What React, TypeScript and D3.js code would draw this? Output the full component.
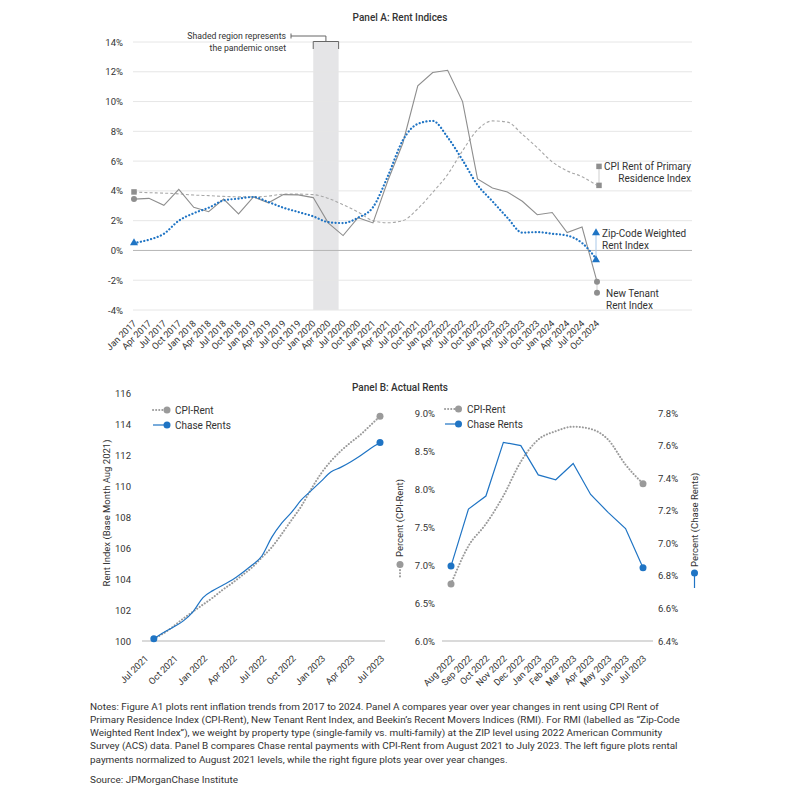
import React from 'react';
import * as d3 from 'd3';

// Panel A: year over year rent change, quarterly, Jan 2017 - Oct 2024
const quarters = [
  'Jan 2017', 'Apr 2017', 'Jul 2017', 'Oct 2017', 'Jan 2018', 'Apr 2018', 'Jul 2018', 'Oct 2018',
  'Jan 2019', 'Apr 2019', 'Jul 2019', 'Oct 2019', 'Jan 2020', 'Apr 2020', 'Jul 2020', 'Oct 2020',
  'Jan 2021', 'Apr 2021', 'Jul 2021', 'Oct 2021', 'Jan 2022', 'Apr 2022', 'Jul 2022', 'Oct 2022',
  'Jan 2023', 'Apr 2023', 'Jul 2023', 'Oct 2023', 'Jan 2024', 'Apr 2024', 'Jul 2024', 'Oct 2024',
];
const newTenant = [3.45, 3.5, 3.03, 4.1, 2.9, 2.6, 3.45, 2.45, 3.6, 3.2, 3.75, 3.73, 3.55, 1.85, 1.0, 2.2,
  1.85, 4.7, 7.2, 11.05, 11.95, 12.1, 10.0, 4.8, 4.2, 3.93, 3.3, 2.4, 2.55, 1.2, 1.57, -2.1];
const cpiRent = [3.93, 3.88, 3.85, 3.8, 3.72, 3.68, 3.63, 3.6, 3.6, 3.65, 3.78, 3.78, 3.75, 3.5, 3.07, 2.58,
  2.0, 1.86, 2.0, 2.8, 3.9, 5.1, 6.7, 8.1, 8.7, 8.62, 7.8, 6.9, 5.95, 5.35, 4.95, 4.37];
const zipWeighted = [0.5, 0.72, 1.12, 2.0, 2.5, 2.87, 3.36, 3.48, 3.59, 3.25, 2.87, 2.58, 2.29, 1.9, 1.84, 2.2,
  2.9, 5.0, 7.4, 8.5, 8.7, 7.6, 6.06, 4.4, 3.3, 2.2, 1.2, 1.23, 1.12, 1.0, 0.5, -0.63];
const yTicksA = [-4, -2, 0, 2, 4, 6, 8, 10, 12, 14];
const pandemic = [12, 13.7]; // Jan 2020 to ~Jun 2020, in quarter index

// Panel B left: rent index, monthly Aug 2021 - Jul 2023 (month 1..24 from Jul 2021)
const leftTickLabels = ['Jul 2021', 'Oct 2021', 'Jan 2022', 'Apr 2022', 'Jul 2022', 'Oct 2022', 'Jan 2023', 'Apr 2023', 'Jul 2023'];
const cpiIndex = [100.15, 100.5, 100.95, 101.45, 101.9, 102.35, 102.8, 103.3, 103.75, 104.25, 104.75, 105.4,
  106.05, 106.9, 107.8, 108.7, 109.8, 110.8, 111.6, 112.25, 112.8, 113.3, 113.9, 114.5];
const chaseIndex = [100.15, 100.55, 100.9, 101.3, 101.9, 102.8, 103.25, 103.6, 103.95, 104.4, 104.9, 105.5,
  106.7, 107.6, 108.3, 109.1, 109.7, 110.3, 110.9, 111.2, 111.55, 111.95, 112.4, 112.8];
const yTicksBL = [100, 102, 104, 106, 108, 110, 112, 114, 116];

// Panel B right: yoy %, monthly Aug 2022 - Jul 2023
const months = ['Aug 2022', 'Sep 2022', 'Oct 2022', 'Nov 2022', 'Dec 2022', 'Jan 2023', 'Feb 2023', 'Mar 2023',
  'Apr 2023', 'May 2023', 'Jun 2023', 'Jul 2023'];
const cpiYoy = [6.75, 7.25, 7.54, 7.91, 8.36, 8.65, 8.76, 8.82, 8.79, 8.65, 8.32, 8.07];
const chaseYoy = [6.86, 7.21, 7.29, 7.62, 7.6, 7.42, 7.39, 7.49, 7.3, 7.19, 7.09, 6.85];
const yTicksCpi = [6.0, 6.5, 7.0, 7.5, 8.0, 8.5, 9.0];
const yTicksChase = [6.4, 6.6, 6.8, 7.0, 7.2, 7.4, 7.6, 7.8];

const notes = [
  'Notes: Figure A1 plots rent inflation trends from 2017 to 2024. Panel A compares year over year changes in rent using CPI Rent of',
  'Primary Residence Index (CPI-Rent), New Tenant Rent Index, and Beekin\u2019s Recent Movers Indices (RMI). For RMI (labelled as \u201cZip-Code',
  'Weighted Rent Index\u201d), we weight by property type (single-family vs. multi-family) at the ZIP level using 2022 American Community',
  'Survey (ACS) data. Panel B compares Chase rental payments with CPI-Rent from August 2021 to July 2023. The left figure plots rental',
  'payments normalized to August 2021 levels, while the right figure plots year over year changes.',
];

const FONT = 'Roboto, "Noto Sans", sans-serif';
const TXT = '#333';
const GRID = '#e6e6e6';
const GRAY = '#8e8e8e';
const LGRAY = '#a8a8a8';
const BLUE = '#1f74c4';

export default function App() {
  // ---- Panel A scales
  const xA = d3.scaleLinear().domain([0, quarters.length - 1]).range([134, 597]);
  const yA = d3.scaleLinear().domain([-4, 14]).range([310, 42]);
  const lineA = (vals: number[], curve: d3.CurveFactory) =>
    d3.line<number>().x((_, i) => xA(i)).y(d => yA(d)).curve(curve)(vals) || '';

  // ---- Panel B left
  const xL = d3.scaleLinear().domain([0, 24]).range([144, 380]);
  const yL = d3.scaleLinear().domain([100, 116]).range([641, 393]);
  const lineL = (vals: number[]) =>
    d3.line<number>().x((_, i) => xL(i + 1)).y(d => yL(d)).curve(d3.curveMonotoneX)(vals) || '';

  // ---- Panel B right
  const xR = d3.scaleLinear().domain([0, months.length - 1]).range([451, 643]);
  const yCpi = d3.scaleLinear().domain([6, 9]).range([641, 413]);
  const yChase = d3.scaleLinear().domain([6.4, 7.8]).range([641, 413]);
  const cpiR = d3.line<number>().x((_, i) => xR(i)).y(d => yCpi(d)).curve(d3.curveMonotoneX)(cpiYoy) || '';
  const chaseR = d3.line<number>().x((_, i) => xR(i)).y(d => yChase(d))(chaseYoy) || '';

  const sq = d3.symbol(d3.symbolSquare, 30)() || '';
  const tri = d3.symbol(d3.symbolTriangle, 28)() || '';

  const last = quarters.length - 1;
  const cpiEnd = { x: xA(last) + 2, y: yA(cpiRent[last]) };
  const zipEnd = { x: xA(last) - 1, y: yA(zipWeighted[last]) };
  const ntEnd = { x: xA(last), y: yA(newTenant[last]) };

  const dotted = { strokeDasharray: '0.1 3.4', strokeLinecap: 'round' as const };

  return (
    <svg width={800} height={800} style={{ position: 'absolute', left: 0, top: 0, background: '#fff' }}
      fontFamily={FONT} fill={TXT}>
      {/* ================= Panel A ================= */}
      <text x={400} y={21} textAnchor="middle" fontSize={10} fontWeight={500}>Panel A: Rent Indices</text>

      <rect x={xA(pandemic[0])} y={yA(14)} width={xA(pandemic[1]) - xA(pandemic[0])} height={yA(-4) - yA(14)} fill="#e5e5e7" />

      {yTicksA.map(t => (
        <g key={t}>
          <line x1={133} x2={692} y1={yA(t)} y2={yA(t)} stroke={t === 0 ? '#b5b5b5' : GRID} strokeWidth={1} />
          <text x={123} y={yA(t) + 3.5} textAnchor="end" fontSize={9.5}>{t}%</text>
        </g>
      ))}

      {/* pandemic bracket */}
      <g stroke="#666" strokeWidth={1} fill="none">
        <path d={`M${xA(pandemic[0])},49 V41.5 H${xA(pandemic[1])} V49`} />
        <path d={`M${(xA(pandemic[0]) + xA(pandemic[1])) / 2},41.5 V36 H291`} />
        <path d="M291,33.5 V38.5" />
      </g>
      <text x={286} y={39} textAnchor="end" fontSize={8.7}>Shaded region represents</text>
      <text x={286} y={50.5} textAnchor="end" fontSize={8.7}>the pandemic onset</text>

      {/* series */}
      <path d={lineA(cpiRent, d3.curveMonotoneX)} fill="none" stroke={LGRAY} strokeWidth={1.1} strokeDasharray="3 2.2" />
      <path d={lineA(newTenant, d3.curveLinear)} fill="none" stroke={GRAY} strokeWidth={1.1} />
      <path d={lineA(zipWeighted, d3.curveMonotoneX)} fill="none" stroke={BLUE} strokeWidth={2.2} {...dotted} />

      {/* start markers */}
      <path d={sq} transform={`translate(${xA(0)},${yA(cpiRent[0])})`} fill={GRAY} />
      <circle cx={xA(0)} cy={yA(newTenant[0])} r={3} fill={GRAY} />
      <path d={tri} transform={`translate(${xA(0)},${yA(zipWeighted[0])})`} fill={BLUE} />

      {/* end labels */}
      <line x1={cpiEnd.x} x2={cpiEnd.x} y1={cpiEnd.y - 19} y2={cpiEnd.y} stroke="#cfcfcf" />
      <path d={sq} transform={`translate(${cpiEnd.x},${cpiEnd.y})`} fill={GRAY} />
      <path d={sq} transform={`translate(${cpiEnd.x},${cpiEnd.y - 19})`} fill={GRAY} />
      <text x={691} y={cpiEnd.y - 15.5} textAnchor="end" fontSize={10}>CPI Rent of Primary</text>
      <text x={691} y={cpiEnd.y - 3} textAnchor="end" fontSize={10}>Residence Index</text>

      <line x1={zipEnd.x} x2={zipEnd.x} y1={zipEnd.y - 27} y2={zipEnd.y} stroke="#a9c8e8" />
      <path d={tri} transform={`translate(${zipEnd.x},${zipEnd.y})`} fill={BLUE} />
      <path d={tri} transform={`translate(${zipEnd.x},${zipEnd.y - 27})`} fill={BLUE} />
      <text x={zipEnd.x + 6} y={zipEnd.y - 23} fontSize={10}>Zip-Code Weighted</text>
      <text x={zipEnd.x + 6} y={zipEnd.y - 10.5} fontSize={10}>Rent Index</text>

      <line x1={ntEnd.x} x2={ntEnd.x} y1={ntEnd.y} y2={ntEnd.y + 11} stroke="#cfcfcf" />
      <circle cx={ntEnd.x} cy={ntEnd.y} r={3} fill={GRAY} />
      <circle cx={ntEnd.x} cy={ntEnd.y + 11} r={3} fill={GRAY} />
      <text x={ntEnd.x + 9} y={ntEnd.y + 15} fontSize={10}>New Tenant</text>
      <text x={ntEnd.x + 9} y={ntEnd.y + 27} fontSize={10}>Rent Index</text>

      {quarters.map((q, i) => (
        <text key={q} transform={`translate(${xA(i) + 3},${324}) rotate(-45)`} textAnchor="end" fontSize={9.2}>{q}</text>
      ))}

      {/* ================= Panel B ================= */}
      <text x={400} y={390.5} textAnchor="middle" fontSize={10} fontWeight={500}>Panel B: Actual Rents</text>

      {/* left chart */}
      <line x1={142} x2={385} y1={yL(100)} y2={yL(100)} stroke="#b5b5b5" />
      {yTicksBL.map(t => (
        <text key={t} x={131} y={yL(t) + 3.5} textAnchor="end" fontSize={9.5}>{t}</text>
      ))}
      {leftTickLabels.map((l, i) => (
        <text key={l} transform={`translate(${xL(i * 3) + 5},${659}) rotate(-45)`} textAnchor="end" fontSize={9.2}>{l}</text>
      ))}
      <text transform={`translate(110,513) rotate(-90)`} textAnchor="middle" fontSize={9.5}>Rent Index (Base Month Aug 2021)</text>
      <path d={lineL(cpiIndex)} fill="none" stroke="#9a9a9a" strokeWidth={2} {...dotted} strokeDasharray="0.1 3" />
      <path d={lineL(chaseIndex)} fill="none" stroke={BLUE} strokeWidth={1.2} />
      <circle cx={xL(24)} cy={yL(cpiIndex[23])} r={3.5} fill="#9a9a9a" />
      <circle cx={xL(24)} cy={yL(chaseIndex[23])} r={3.5} fill={BLUE} />
      <circle cx={xL(1)} cy={yL(chaseIndex[0])} r={3.5} fill={BLUE} />
      {/* left legend */}
      <line x1={153} x2={166} y1={410} y2={410} stroke="#9a9a9a" strokeWidth={2} {...dotted} strokeDasharray="0.1 3" />
      <circle cx={167} cy={410} r={3.5} fill="#9a9a9a" />
      <text x={175} y={413.5} fontSize={10}>CPI-Rent</text>
      <line x1={153} x2={166} y1={425} y2={425} stroke={BLUE} strokeWidth={1.2} />
      <circle cx={167} cy={425} r={3.5} fill={BLUE} />
      <text x={175} y={428.5} fontSize={10}>Chase Rents</text>

      {/* right chart */}
      <line x1={442} x2={653} y1={641} y2={641} stroke="#b5b5b5" />
      {yTicksCpi.map(t => (
        <text key={t} x={435} y={yCpi(t) + 3.5} textAnchor="end" fontSize={9.5}>{t.toFixed(1)}%</text>
      ))}
      {yTicksChase.map(t => (
        <text key={t} x={658} y={yChase(t) + 3.5} fontSize={9.5}>{t.toFixed(1)}%</text>
      ))}
      {months.map((m, i) => (
        <text key={m} transform={`translate(${xR(i) + 4},${659}) rotate(-45)`} textAnchor="end" fontSize={9.2}>{m}</text>
      ))}
      <path d={cpiR} fill="none" stroke="#9a9a9a" strokeWidth={2} {...dotted} strokeDasharray="0.1 3" />
      <path d={chaseR} fill="none" stroke={BLUE} strokeWidth={1.2} />
      <circle cx={xR(0)} cy={yCpi(cpiYoy[0])} r={3.5} fill="#9a9a9a" />
      <circle cx={xR(11)} cy={yCpi(cpiYoy[11])} r={3.5} fill="#9a9a9a" />
      <circle cx={xR(0)} cy={yChase(chaseYoy[0])} r={3.5} fill={BLUE} />
      <circle cx={xR(11)} cy={yChase(chaseYoy[11])} r={3.5} fill={BLUE} />
      {/* right legend */}
      <line x1={445} x2={457} y1={409} y2={409} stroke="#9a9a9a" strokeWidth={2} {...dotted} strokeDasharray="0.1 3" />
      <circle cx={458.5} cy={409} r={3.5} fill="#9a9a9a" />
      <text x={467} y={412.5} fontSize={10}>CPI-Rent</text>
      <line x1={445} x2={457} y1={424} y2={424} stroke={BLUE} strokeWidth={1.2} />
      <circle cx={458.5} cy={424} r={3.5} fill={BLUE} />
      <text x={467} y={427.5} fontSize={10}>Chase Rents</text>

      {/* rotated axis titles with legend keys */}
      <text transform={`translate(403,557) rotate(-90)`} fontSize={9.5}>Percent (CPI-Rent)</text>
      <circle cx={400} cy={564.5} r={3.5} fill="#9a9a9a" />
      <line x1={400} x2={400} y1={567} y2={579} stroke="#9a9a9a" strokeWidth={2} {...dotted} strokeDasharray="0.1 3" />
      <text transform={`translate(698,567) rotate(-90)`} fontSize={9.5}>Percent (Chase Rents)</text>
      <circle cx={694.5} cy={573} r={3.5} fill={BLUE} />
      <line x1={694.5} x2={694.5} y1={575} y2={588} stroke={BLUE} strokeWidth={1.2} />

      {/* ================= Notes ================= */}
      {notes.map((n, i) => (
        <text key={i} x={90} y={709.5 + i * 13.3} fontSize={9.95}>{n}</text>
      ))}
      <text x={90} y={783} fontSize={9.95}>Source: JPMorganChase Institute</text>
    </svg>
  );
}
